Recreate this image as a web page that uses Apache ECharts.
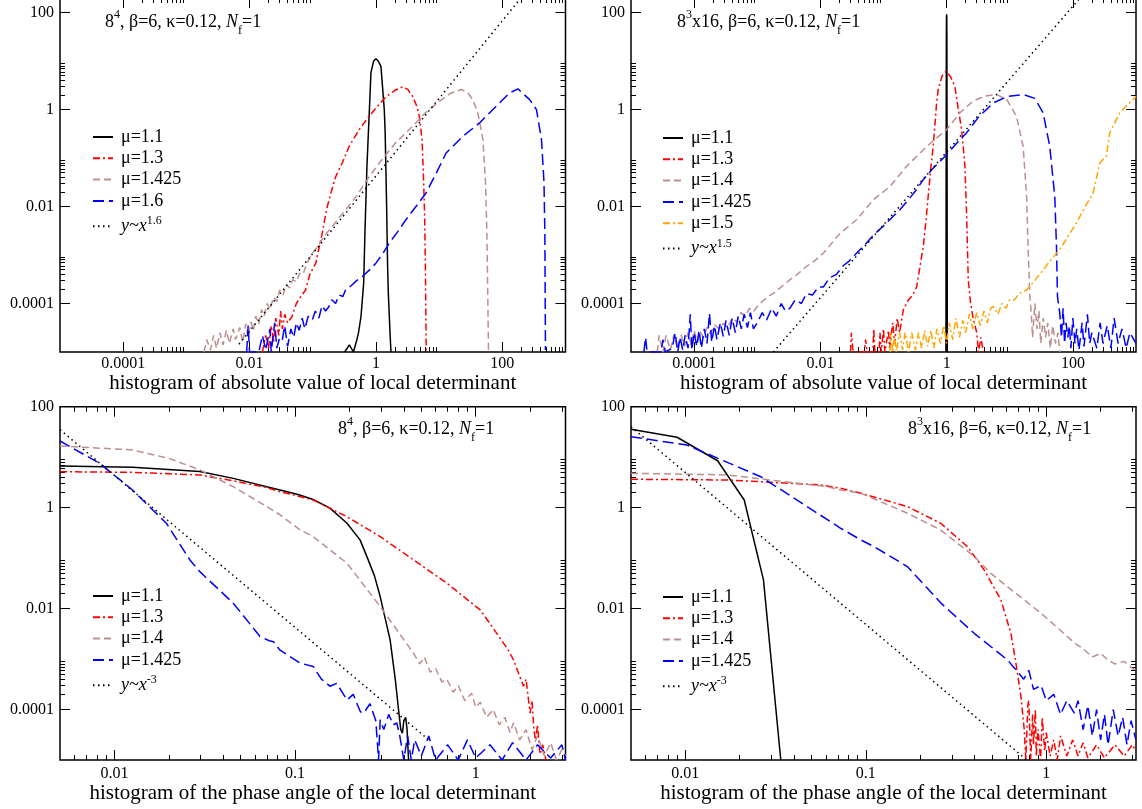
<!DOCTYPE html>
<html><head><meta charset="utf-8">
<script src="https://cdn.jsdelivr.net/npm/echarts@6/dist/echarts.min.js"></script>
<style>html,body{margin:0;padding:0;background:#fff}#c{width:1142px;height:809px}</style>
</head><body><div id="c"></div>
<script>
// ---------- tick values & labels ----------
const absMajor = [1e-4, 1e-2, 1, 100];
const absMajorLabels = ['0.0001', '0.01', '1', '100'];
const absMinor = [2e-4,3e-4,4e-4,5e-4,6e-4,7e-4,8e-4,9e-4, 0.02,0.03,0.04,0.05,0.06,0.07,0.08,0.09, 2,3,4,5,6,7,8,9, 200,300,400,500,600,700,800,900];
const yMajor = [1e-4, 1e-2, 1, 100];
const yMajorLabels = ['0.0001', '0.01', '1', '100'];
const yMinor = [2e-4,3e-4,4e-4,5e-4,6e-4,7e-4,8e-4,9e-4, 0.02,0.03,0.04,0.05,0.06,0.07,0.08,0.09, 2,3,4,5,6,7,8,9];
const phMajor = [0.01, 0.1, 1];
const phMajorLabels = ['0.01', '0.1', '1'];
const phMinor = [0.006,0.007,0.008,0.009, 0.02,0.03,0.04,0.05,0.06,0.07,0.08,0.09, 0.2,0.3,0.4,0.5,0.6,0.7,0.8,0.9, 2,3];

// ---------- top-left: |det| 8^4 ----------
const tlMu11 = [[0.32,1e-5],[0.38,1.4e-5],[0.44,1e-5],[0.5,1.8e-5],[0.53,2.5e-5],[0.58,5.4e-5],[0.64,2.7e-4],[0.67,2.9e-3],[0.72,0.067],[0.8,1.6],[0.833,5.7],[0.916,10],[1.0,11.2],[1.087,10],[1.2,7.8],[1.245,4.2],[1.355,1.0],[1.4,0.33],[1.47,0.0138],[1.53,5.8e-4],[1.57,1.66e-4],[1.67,2.5e-5],[1.73,1e-5]];
const tlMu13 = [[0.016,1e-5],[0.018,2.2e-5],[0.02,1.2e-5],[0.022,3.5e-5],[0.024,1.6e-5],[0.026,5e-5],[0.029,2.2e-5],[0.031,7e-5],[0.033,3e-5],[0.036,6e-5],[0.04,4e-5],[0.047,5.4e-5],[0.055,1e-4],[0.065,1.4e-4],[0.077,1.9e-4],[0.09,4e-4],[0.112,6.9e-4],[0.127,1.5e-3],[0.142,2.9e-3],[0.155,5.5e-3],[0.17,0.01],[0.2,0.022],[0.232,0.042],[0.3,0.085],[0.377,0.175],[0.544,0.386],[0.78,0.73],[1.06,1.17],[1.44,1.83],[2.0,2.5],[2.64,2.94],[3.2,2.6],[3.8,1.88],[4.4,1.2],[4.87,0.73],[5.37,0.24],[5.63,0.049],[5.9,0.0063],[6.06,5.8e-4],[6.2,2.5e-5],[6.25,1e-5]];
const tlMu1425 = [[0.0019,1e-5],[0.0021,1.8e-5],[0.0024,1.1e-5],[0.0027,2.2e-5],[0.003,1.2e-5],[0.0034,2.5e-5],[0.0038,1.4e-5],[0.0043,2.8e-5],[0.0048,1.5e-5],[0.0055,3e-5],[0.006,1.8e-5],[0.007,3.2e-5],[0.0078,1.6e-5],[0.0087,3.8e-5],[0.0095,2e-5],[0.0105,4.2e-5],[0.0115,2.8e-5],[0.0125,5.5e-5],[0.014,3.8e-5],[0.0155,7.5e-5],[0.017,5.5e-5],[0.019,1e-4],[0.021,7.5e-5],[0.024,1.35e-4],[0.027,1.1e-4],[0.03,1.9e-4],[0.034,1.5e-4],[0.038,2.5e-4],[0.043,2.1e-4],[0.048,3.1e-4],[0.055,2.8e-4],[0.062,4.2e-4],[0.07,4e-4],[0.08,6.5e-4],[0.0986,1.1e-3],[0.12,1.5e-3],[0.15,2.4e-3],[0.2,3.8e-3],[0.334,8.6e-3],[0.5,0.017],[0.75,0.038],[1.13,0.079],[2,0.2],[3.8,0.45],[6,0.85],[10.1,1.48],[15,2.15],[22.3,2.59],[28,2.3],[34,1.6],[41,0.855],[49.3,0.24],[54.3,0.031],[57,0.0028],[59,1.2e-4],[60.4,1.1e-5]];
const tlMu16 = [[0.009,1e-5],[0.0095,3.5e-5],[0.01,1e-5],[0.014,1e-5],[0.016,2.2e-5],[0.018,1.1e-5],[0.021,3e-5],[0.022,1e-5],[0.025,4e-5],[0.027,1.2e-5],[0.03,2e-5],[0.033,1.8e-5],[0.036,3.5e-5],[0.04,1.3e-5],[0.045,3e-5],[0.05,2e-5],[0.055,4e-5],[0.061,2.8e-5],[0.068,5e-5],[0.075,3e-5],[0.085,5.5e-5],[0.0986,4.6e-5],[0.11,7e-5],[0.125,5e-5],[0.14,9e-5],[0.16,7e-5],[0.18,8.7e-5],[0.2,1.2e-4],[0.23,1e-4],[0.26,1.5e-4],[0.3,1.4e-4],[0.33,1.9e-4],[0.4,2.3e-4],[0.5,3e-4],[0.61,3.6e-4],[0.8,5e-4],[1.0,6.8e-4],[1.3,1.1e-3],[1.63,1.77e-3],[2.2,3e-3],[3.0,5.4e-3],[4.3,0.01],[6.2,0.019],[9,0.049],[12.9,0.127],[23.7,0.28],[43.6,0.53],[80,1.17],[130,2.2],[177,2.67],[271,1.6],[347,1.0],[417,0.24],[457,0.031],[471,0.0029],[482,1.1e-5]];
const tlPow = [[0.0068,1.45e-5],[1000,2700]];

// ---------- top-right: |det| 8^3x16 ----------
const trMu11 = [[0.975,1e-5],[0.985,0.5],[0.99,30],[0.995,80],[1.0,92],[1.005,80],[1.01,30],[1.015,0.5],[1.025,1e-5]];
const trMu13 = [[0.03,1e-5],[0.031,2.5e-5],[0.033,1e-5],[0.05,1e-5],[0.052,1.8e-5],[0.055,1e-5],[0.068,1e-5],[0.07,3e-5],[0.073,1e-5],[0.085,1e-5],[0.088,2.5e-5],[0.092,1e-5],[0.1,3e-5],[0.105,1e-5],[0.12,2.8e-5],[0.125,1.2e-5],[0.14,4e-5],[0.15,1.5e-5],[0.165,5e-5],[0.18,2.5e-5],[0.206,7.4e-5],[0.25,1.2e-4],[0.29,1.5e-4],[0.335,2.2e-4],[0.38,6e-4],[0.427,1.5e-3],[0.47,5e-3],[0.51,0.016],[0.56,0.06],[0.614,0.175],[0.695,1.4],[0.736,2.6],[0.85,5],[0.98,6.2],[1.15,4.8],[1.35,3.0],[1.5,1.2],[1.73,0.386],[1.95,0.068],[2.07,0.0074],[2.2,3.1e-4],[2.4,1e-4],[2.6,5.4e-5],[3.0,2.5e-5],[3.2,1e-5],[3.5,2e-5],[3.8,1e-5]];
const trMu14 = [[2.6e-5,1e-5],[2.8e-5,2.2e-5],[3.2e-5,1e-5],[3.6e-5,2.2e-5],[4.2e-5,1.1e-5],[4.8e-5,2.3e-5],[5.5e-5,1.2e-5],[6.2e-5,2.3e-5],[7e-5,1.3e-5],[8e-5,2.5e-5],[9e-5,1.4e-5],[1.0e-4,2.8e-5],[1.12e-4,1.6e-5],[1.26e-4,2.6e-5],[1.4e-4,2e-5],[1.6e-4,3.2e-5],[1.8e-4,2.4e-5],[2.1e-4,3.6e-5],[2.5e-4,3e-5],[2.9e-4,3.9e-5],[3.4e-4,3.2e-5],[4e-4,5e-5],[4.7e-4,4.2e-5],[5.5e-4,6.5e-5],[6.5e-4,5.5e-5],[7.5e-4,8e-5],[8.7e-4,6.8e-5],[0.001,8.7e-5],[0.0012,1.1e-4],[0.0015,1.4e-4],[0.0019,1.7e-4],[0.0025,2.3e-4],[0.0033,3.1e-4],[0.0045,4.2e-4],[0.006,5.8e-4],[0.008,7.5e-4],[0.0112,1.1e-3],[0.0205,2.8e-3],[0.0377,5.4e-3],[0.069,0.0138],[0.127,0.026],[0.233,0.068],[0.5,0.18],[1.0,0.386],[1.62,0.855],[2.63,1.5],[4,1.9],[6.2,2.04],[9,1.6],[12.8,0.73],[15.4,0.24],[16.3,0.175],[18.5,0.016],[19.5,0.0015],[20.8,1.4e-4],[22,6e-5],[23,2e-5],[25,1e-4],[27,3e-5],[29,7e-5],[31,1.5e-5],[34,5e-5],[37,2e-5],[40,4e-5],[44,1.2e-5],[48,3.5e-5],[53,1.5e-5],[58,2.5e-5],[62,1e-5]];
const trMu1425 = [[1.6e-5,1e-5],[1.7e-5,2e-5],[1.8e-5,1e-5],[3e-5,1e-5],[3.2e-5,1.8e-5],[3.5e-5,1e-5],[4.5e-5,1.2e-5],[5e-5,2.5e-5],[5.5e-5,1e-5],[6e-5,2e-5],[6.6e-5,1.1e-5],[7.2e-5,2.2e-5],[8e-5,1.2e-5],[8.7e-5,6e-5],[9.2e-5,1.1e-5],[1e-4,2.5e-5],[1.1e-4,1.3e-5],[1.2e-4,2.8e-5],[1.3e-4,1.2e-5],[1.45e-4,3e-5],[1.6e-4,1.5e-5],[1.75e-4,6.3e-5],[1.9e-4,1.6e-5],[2.1e-4,3.5e-5],[2.3e-4,1.8e-5],[2.6e-4,4e-5],[2.9e-4,2.1e-5],[3.2e-4,4.5e-5],[3.6e-4,2.2e-5],[4e-4,5e-5],[4.5e-4,2.5e-5],[5e-4,5.5e-5],[5.6e-4,3e-5],[6.2e-4,6e-5],[7e-4,3.2e-5],[7.8e-4,6.5e-5],[8.7e-4,3e-5],[0.001,4e-5],[0.0012,6.5e-5],[0.0014,4.5e-5],[0.0017,8e-5],[0.002,5.5e-5],[0.0024,1e-4],[0.0028,7e-5],[0.0033,8e-5],[0.004,1.2e-4],[0.005,1e-4],[0.006,1.6e-4],[0.0075,1.5e-4],[0.0093,2.2e-4],[0.0112,2.2e-4],[0.014,3.4e-4],[0.018,4e-4],[0.023,6e-4],[0.0285,7.5e-4],[0.0377,1.1e-3],[0.05,1.6e-3],[0.07,2.6e-3],[0.1,4e-3],[0.127,5.4e-3],[0.18,8.5e-3],[0.25,0.014],[0.33,0.022],[0.427,0.0358],[0.6,0.06],[1.0,0.117],[1.62,0.24],[2.07,0.33],[3.2,0.7],[5.5,1.37],[9,1.85],[16.3,2.04],[25,1.7],[33.8,0.855],[43,0.175],[51.7,0.016],[55,0.0015],[57,1.4e-4],[62,6.3e-5],[66,2e-5],[70,8e-5],[74,1.5e-5],[78,4e-5],[83,2e-5],[88,3.5e-5],[93,1.2e-5],[100,5e-5],[108,1.5e-5],[115,3e-5],[125,1.1e-5],[140,4e-5],[150,1.3e-5],[170,6e-5],[185,1.5e-5],[200,2.5e-5],[240,1.2e-5],[270,4e-5],[300,1.5e-5],[350,3.5e-5],[400,1.2e-5],[450,5e-5],[520,1.5e-5],[600,3e-5],[700,1.2e-5],[800,2.5e-5],[1000,1.5e-5]];
const trMu15 = [[0.127,1e-5],[0.13,2.5e-5],[0.14,1e-5],[0.15,2.2e-5],[0.16,1e-5],[0.18,2.5e-5],[0.2,1.1e-5],[0.22,2.5e-5],[0.25,1e-5],[0.28,2.5e-5],[0.32,1.1e-5],[0.36,2.5e-5],[0.4,1.2e-5],[0.45,2.8e-5],[0.5,1.3e-5],[0.56,2.8e-5],[0.63,1.2e-5],[0.7,3e-5],[0.8,1.5e-5],[0.9,3.5e-5],[1.0,1.5e-5],[1.1,4e-5],[1.25,1.8e-5],[1.4,5e-5],[1.6,2e-5],[1.8,4.5e-5],[2.0,2.5e-5],[2.3,6e-5],[2.6,3e-5],[3.0,6.5e-5],[3.4,3.5e-5],[3.9,7e-5],[4.4,4e-5],[5.0,8e-5],[5.5,8.7e-5],[6.5,6e-5],[7.5,1e-4],[8.7,8e-5],[10,1.2e-4],[12,1.2e-4],[14,1.6e-4],[18.5,1.9e-4],[25,3e-4],[33.8,4.9e-4],[45,8e-4],[62,1.3e-3],[85,2.5e-3],[114,4.6e-3],[150,9e-3],[209,0.019],[267,0.079],[340,0.11],[383,0.33],[550,0.85],[620,1.0],[895,1.6],[1000,1.88]];
const trPow = [[0.0018,1e-5],[1000,4300]];

// ---------- bottom-left: phase 8^4 ----------
const blMu11 = [[0.005,6.7],[0.0126,6.3],[0.0297,5.2],[0.0455,3.8],[0.0697,2.6],[0.0826,2.24],[0.105,1.8],[0.126,1.45],[0.156,0.98],[0.194,0.49],[0.229,0.23],[0.25,0.107],[0.275,0.045],[0.296,0.0173],[0.336,0.0024],[0.359,3.9e-4],[0.374,1e-4],[0.385,4e-5],[0.393,3.4e-5],[0.40,6e-5],[0.41,7e-5],[0.417,4e-5],[0.425,1e-5]];
const blMu13 = [[0.005,5.16],[0.0126,5.0],[0.0297,4.44],[0.0455,3.4],[0.0697,2.5],[0.0826,2.07],[0.107,1.65],[0.126,1.42],[0.194,0.66],[0.296,0.267],[0.453,0.092],[0.693,0.0318],[1.06,0.0094],[1.31,0.0032],[1.5,1.6e-3],[1.62,9.6e-4],[1.84,2.9e-4],[1.9,4e-4],[2.0,8.5e-5],[2.05,1.5e-4],[2.1,4e-5],[2.14,2.5e-5],[2.2,5e-5],[2.27,1.3e-5],[2.35,2e-5],[2.45,1e-5]];
const blMu14 = [[0.005,16.7],[0.0126,13.9],[0.02,9.5],[0.0297,5.6],[0.0455,2.6],[0.0697,1.05],[0.0826,0.72],[0.107,0.36],[0.126,0.267],[0.194,0.079],[0.296,0.011],[0.453,1.3e-3],[0.49,8e-4],[0.52,1.1e-3],[0.56,5.5e-4],[0.6,6.5e-4],[0.65,3.5e-4],[0.693,4e-4],[0.75,2.2e-4],[0.8,3e-4],[0.87,1.5e-4],[0.95,2.1e-4],[1.0,1.1e-4],[1.06,1.4e-4],[1.15,7e-5],[1.25,1e-4],[1.35,5e-5],[1.45,7e-5],[1.55,3.5e-5],[1.62,5.5e-5],[1.75,2.5e-5],[1.9,4e-5],[2.05,1.6e-5],[2.2,3e-5],[2.4,1.2e-5],[2.6,2.2e-5],[2.8,1e-5],[3.0,1.6e-5],[3.14,1.2e-5]];
const blMu1425 = [[0.005,20.9],[0.00826,7.6],[0.0126,2.24],[0.0194,0.49],[0.0262,0.092],[0.0297,0.054],[0.0455,0.0128],[0.064,2.8e-3],[0.072,2.3e-3],[0.076,2.2e-3],[0.0826,1.5e-3],[0.107,8.3e-4],[0.126,7.1e-4],[0.14,4e-4],[0.156,2.9e-4],[0.17,3.3e-4],[0.194,1.55e-4],[0.21,2e-4],[0.23,9e-5],[0.24,8.5e-5],[0.26,1.3e-4],[0.28,6e-5],[0.29,1e-5],[0.296,6.3e-5],[0.31,4e-5],[0.33,8e-5],[0.35,5e-5],[0.366,5.4e-5],[0.38,3e-5],[0.4,1e-5],[0.42,3e-5],[0.44,1e-5],[0.46,2.5e-5],[0.5,1.2e-5],[0.55,3e-5],[0.6,1e-5],[0.7,2e-5],[0.8,1e-5],[0.9,2.5e-5],[1.0,1.1e-5],[1.2,2e-5],[1.4,1e-5],[1.6,2.2e-5],[1.9,1e-5],[2.2,2e-5],[2.6,1.1e-5],[3.0,2e-5],[3.14,1e-5]];
const blPow = [[0.005,35],[0.55,2.5e-5]];

// ---------- bottom-right: phase 8^3x16 ----------
const brMu11 = [[0.005,35.7],[0.009,24.8],[0.0151,8.5],[0.0212,1.42],[0.0271,0.037],[0.0338,1e-5]];
const brMu13 = [[0.005,3.65],[0.0171,3.53],[0.0562,2.82],[0.0726,2.42],[0.0938,1.93],[0.17,1.05],[0.26,0.49],[0.366,0.169],[0.453,0.058],[0.561,0.0148],[0.637,0.0032],[0.679,8.3e-4],[0.724,1.8e-4],[0.755,4e-5],[0.77,1e-5],[0.79,1.2e-4],[0.8,1.5e-4],[0.82,1e-5],[0.84,8e-5],[0.85,2e-5],[0.87,1e-4],[0.88,1.2e-5],[0.9,4e-5],[0.93,1e-5],[0.95,7e-5],[0.98,1.5e-5],[1.0,3.5e-5],[1.05,1.2e-5],[1.1,2.5e-5],[1.15,1e-5],[1.2,3e-5],[1.3,1.2e-5],[1.4,2.5e-5],[1.5,1.2e-5],[1.6,2.2e-5],[1.7,1.1e-5],[1.9,2e-5],[2.1,1.1e-5],[2.4,2e-5],[2.7,1.2e-5],[3.0,2e-5],[3.14,1.5e-5]];
const brMu14 = [[0.005,4.8],[0.0171,4.44],[0.0613,2.6],[0.0726,2.24],[0.0938,1.93],[0.17,0.776],[0.26,0.36],[0.4,0.107],[0.493,0.05],[0.61,0.027],[0.936,0.0081],[1.43,0.0021],[1.6,1.6e-3],[1.8,1.1e-3],[2.0,1.3e-3],[2.19,9.6e-4],[2.4,8e-4],[2.7,9e-4],[3.0,6.5e-4],[3.14,6.1e-4]];
const brMu1425 = [[0.005,25.5],[0.0102,17.4],[0.0262,4.1],[0.0726,0.39],[0.0938,0.23],[0.111,0.169],[0.17,0.068],[0.26,0.013],[0.4,0.0032],[0.61,9.6e-4],[0.75,4e-4],[0.8,6e-4],[0.85,2.5e-4],[0.936,3e-4],[1.0,1.5e-4],[1.1,2e-4],[1.2,8e-5],[1.3,1.5e-4],[1.43,8.5e-5],[1.5,1.5e-4],[1.6,4e-5],[1.7,1.2e-4],[1.8,3e-5],[1.9,1e-4],[2.0,2.5e-5],[2.1,8e-5],[2.2,2e-5],[2.35,1e-4],[2.5,3e-5],[2.65,7e-5],[2.8,2e-5],[2.95,6e-5],[3.14,2.5e-5]];
const brPow = [[0.005,40],[0.78,1e-5]];

// ---------- styling ----------
const FONT = '"Liberation Serif", "Times New Roman", serif';
const C = {black:'#000000', red:'#ff0000', brown:'#bc8f8f', blue:'#0000ff', orange:'#ffa500'};
const D = {solid:'solid', dashdot:[7,3,2,3], dash:[7,4], longdash:[11,5], dot:[1.5,3.5]};

const grids = [
  {left:60, top:-2, width:505.5, height:354},
  {left:631, top:-2, width:505, height:354},
  {left:60, top:406.7, width:505.5, height:353.3},
  {left:631, top:406.7, width:505, height:353.3}
].map(g => Object.assign(g, {show:true, borderColor:'#000', borderWidth:1.5, backgroundColor:'transparent', containLabel:false, outerBoundsMode:'none'}));

function fmt(v, vals, labs){
  let best = 0, bd = 1e9;
  vals.forEach((t,i)=>{ const d = Math.abs(Math.log10(v)-Math.log10(t)); if (d < bd){bd=d; best=i;} });
  return labs[best];
}
const tickLS = {color:'#000', width:1};
function axesFor(dim, gi, min, max, major, labels, minor, name, nameGap, labelMargin){
  const pos = dim === 'x' ? ['bottom','top'] : ['left','right'];
  const base = {type:'log', logBase:10, gridIndex:gi, min, max, splitLine:{show:false}, axisLine:{show:false}, minorTick:{show:false}, axisPointer:{show:false}};
  const main = Object.assign({}, base, {
    position:pos[0],
    axisTick:{show:true, inside:true, length:10, customValues:major, lineStyle:tickLS},
    axisLabel:{show:true, customValues:major, formatter:(v)=>fmt(v, major, labels), margin:labelMargin, fontSize:16, fontFamily:FONT, color:'#000'},
  });
  if (name){
    Object.assign(main, {name, nameLocation:'middle', nameGap, nameTextStyle:{fontSize:21, fontFamily:FONT, color:'#000'}});
  }
  const mk = (p, vals, len) => Object.assign({}, base, {position:p, axisTick:{show:true, inside:true, length:len, customValues:vals, lineStyle:tickLS}, axisLabel:{show:false}});
  return [main, mk(pos[0], minor, 5), mk(pos[1], major, 10), mk(pos[1], minor, 5)];
}

const xAxis = [].concat(
  axesFor('x',0,1e-5,1e3,absMajor,absMajorLabels,absMinor,'histogram of absolute value of local determinant',16,4),
  axesFor('x',1,1e-5,1e3,absMajor,absMajorLabels,absMinor,'histogram of absolute value of local determinant',16,4),
  axesFor('x',2,0.005,Math.PI,phMajor,phMajorLabels,phMinor,'histogram of the phase angle of the local determinant',22,6),
  axesFor('x',3,0.005,Math.PI,phMajor,phMajorLabels,phMinor,'histogram of the phase angle of the local determinant',22,6)
);
const yAxis = [].concat(
  axesFor('y',0,1e-5,200,yMajor,yMajorLabels,yMinor,null,0,6),
  axesFor('y',1,1e-5,200,yMajor,yMajorLabels,yMinor,null,0,6),
  axesFor('y',2,1e-5,100,yMajor,yMajorLabels,yMinor,null,0,6),
  axesFor('y',3,1e-5,100,yMajor,yMajorLabels,yMinor,null,0,6)
);

const legendText = {};
function line(id, label, panel, data, color, dash){
  legendText[id] = label;
  return {type:'line', name:id, xAxisIndex:panel*4, yAxisIndex:panel*4, data, symbol:'none', showSymbol:false,
    lineStyle:{color, width:1.5, type:dash}, itemStyle:{color, opacity:0}, clip:true, silent:true, animation:false};
}
const series = [
  line('tl1','μ=1.1',0,tlMu11,C.black,D.solid),
  line('tl2','μ=1.3',0,tlMu13,C.red,D.dashdot),
  line('tl3','μ=1.425',0,tlMu1425,C.brown,D.dash),
  line('tl4','μ=1.6',0,tlMu16,C.blue,D.longdash),
  line('tl5','{it|y~x}{sup|1.6}',0,tlPow,C.black,D.dot),
  line('tr1','μ=1.1',1,trMu11,C.black,D.solid),
  line('tr2','μ=1.3',1,trMu13,C.red,D.dashdot),
  line('tr3','μ=1.4',1,trMu14,C.brown,D.dash),
  line('tr4','μ=1.425',1,trMu1425,C.blue,D.longdash),
  line('tr5','μ=1.5',1,trMu15,C.orange,D.dashdot),
  line('tr6','{it|y~x}{sup|1.5}',1,trPow,C.black,D.dot),
  line('bl1','μ=1.1',2,blMu11,C.black,D.solid),
  line('bl2','μ=1.3',2,blMu13,C.red,D.dashdot),
  line('bl3','μ=1.4',2,blMu14,C.brown,D.dash),
  line('bl4','μ=1.425',2,blMu1425,C.blue,D.longdash),
  line('bl5','{it|y~x}{sup|-3}',2,blPow,C.black,D.dot),
  line('br1','μ=1.1',3,brMu11,C.black,D.solid),
  line('br2','μ=1.3',3,brMu13,C.red,D.dashdot),
  line('br3','μ=1.4',3,brMu14,C.brown,D.dash),
  line('br4','μ=1.425',3,brMu1425,C.blue,D.longdash),
  line('br5','{it|y~x}{sup|-3}',3,brPow,C.black,D.dot)
];

const legRich = {
  it:{fontFamily:FONT, fontSize:18, fontStyle:'italic', color:'#000', lineHeight:18, padding:[4,0,0,0], verticalAlign:'bottom'},
  sup:{fontFamily:FONT, fontSize:12, color:'#000', lineHeight:12, padding:[0,0,8,0], verticalAlign:'bottom'}
};
function legend(prefix, n, left, top){
  const data = [];
  for (let i=1;i<=n;i++) data.push(prefix+i);
  return {data, orient:'vertical', left, top, padding:0, itemWidth:20, itemHeight:14, itemGap:3.3, selectedMode:false,
    itemStyle:{opacity:0, borderWidth:0},
    formatter:(name)=>legendText[name],
    textStyle:{fontFamily:FONT, fontSize:18, color:'#000', lineHeight:18, padding:[0,0,0,3], rich:legRich}};
}

const titleRich = {
  n:{fontFamily:FONT, fontSize:18, lineHeight:18, padding:[0,0,6,0], verticalAlign:'bottom', color:'#000'},
  it:{fontFamily:FONT, fontSize:18, lineHeight:18, padding:[0,0,6,0], verticalAlign:'bottom', fontStyle:'italic', color:'#000'},
  sup:{fontFamily:FONT, fontSize:12, lineHeight:12, padding:[0,0,16,0], verticalAlign:'bottom', color:'#000'},
  sub:{fontFamily:FONT, fontSize:12, lineHeight:12, padding:[0,0,0,0], verticalAlign:'bottom', color:'#000'}
};
const t84 = '{n|8}{sup|4}{n|, β=6, κ=0.12, }{it|N}{sub|f}{n|=1}';
const t8316 = '{n|8}{sup|3}{n|x16, β=6, κ=0.12, }{it|N}{sub|f}{n|=1}';
function ttl(text, left, top){
  return {text, left, top, padding:0, textStyle:{fontFamily:FONT, fontSize:18, fontWeight:'normal', color:'#000', rich:titleRich}};
}

const chart = echarts.init(document.getElementById('c'), null, {renderer:'canvas', width:1142, height:809});
chart.setOption({
  backgroundColor:'#ffffff',
  animation:false,
  textStyle:{fontFamily:FONT},
  title:[ttl(t84,105,19), ttl(t8316,677,19), ttl(t84,338,426), ttl(t8316,908,426)],
  legend:[legend('tl',5,92,128), legend('tr',6,662,129), legend('bl',5,92,587), legend('br',5,662,588)],
  grid:grids,
  xAxis, yAxis, series
});
</script>
</body></html>
